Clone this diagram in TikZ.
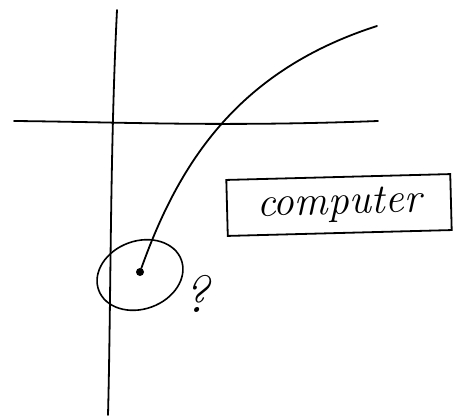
\documentclass[tikz,border=0pt]{standalone}
\usepackage{fontspec}
\usetikzlibrary{shapes.geometric}
\begin{document}
\begin{tikzpicture}[x=1pt,y=-1pt,
  stroke/.style={line width=1.8pt,line cap=round,line join=round},
  boxnode/.style={draw,line width=1.8pt,minimum width=224pt,minimum height=56pt,inner sep=0pt,font=\fontsize{42}{48}\selectfont\itshape},
  ring/.style={draw,ellipse,line width=1.6pt,minimum width=88pt,minimum height=68pt,inner sep=0pt},
  dotnode/.style={circle,fill,inner sep=0pt,minimum size=8pt}]
\useasboundingbox (0,0) rectangle (463,417);
% axes
\coordinate (vt) at (117,10);
\coordinate (vb) at (108,415);
\coordinate (hl) at (14,121);
\coordinate (hr) at (378,121);
\draw[stroke] (vt) .. controls (110,150) and (111,300) .. (vb);
\draw[stroke] (hl) .. controls (120,122) and (220,127) .. (hr);
% point and ring
\node[dotnode] (pt) at (140,272) {};
\node[ring,rotate=20] (rg) at (140,275) {};
\node[font=\fontsize{52}{60}\selectfont\itshape] (q) at (196,294) {?};
% curve
\coordinate (ce) at (377,26);
\draw[stroke] (pt) .. controls (180,160) and (240,70) .. (ce);
% computer box
\node[boxnode,rotate=1.5] (comp) at (339,205) {computer};
\end{tikzpicture}
\end{document}
